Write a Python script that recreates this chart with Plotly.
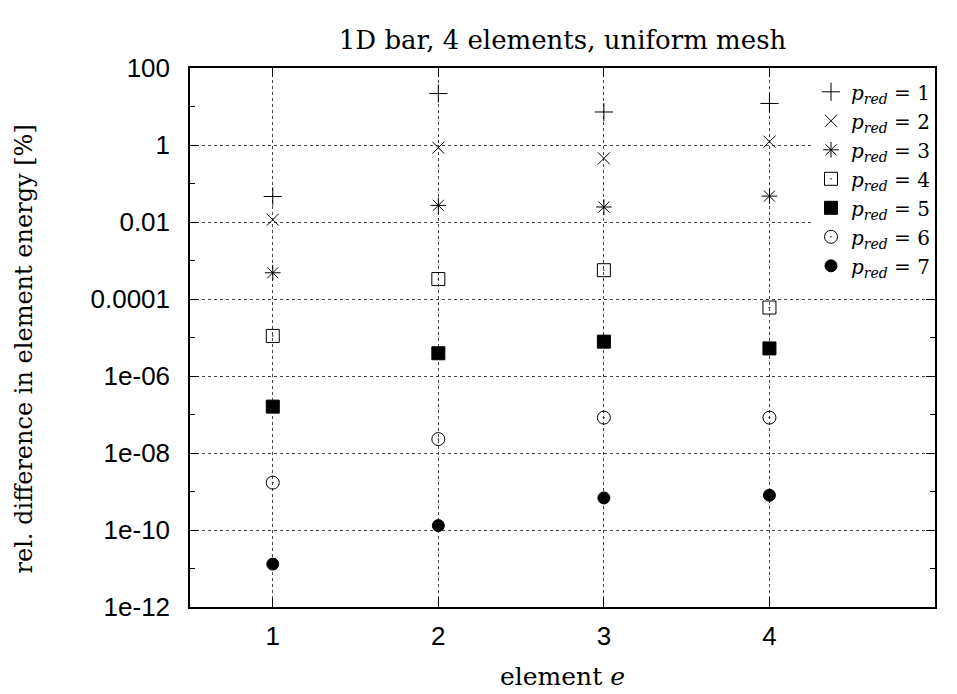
import plotly.graph_objects as go

elements = [1, 2, 3, 4]
p_red_levels = [1, 2, 3, 4, 5, 6, 7]

p1 = [0.046, 21.7, 7.2, 12.0]
p2 = [0.0115, 0.85, 0.45, 1.22]
p3 = [4.8e-4, 0.027, 0.0245, 0.047]
p4 = [1.1e-5, 3.3e-4, 5.6e-4, 6.0e-5]
p5 = [1.6e-7, 3.9e-6, 7.8e-6, 5.2e-6]
p6 = [1.7e-9, 2.3e-8, 8.3e-8, 8.3e-8]
p7 = [1.3e-11, 1.3e-10, 6.8e-10, 8.0e-10]

series = [p1, p2, p3, p4, p5, p6, p7]
symbols = ["cross-thin-open", "x-thin-open", "asterisk-open", "square-open-dot",
           "square", "circle-open-dot", "circle"]
sizes = [13, 12, 13, 13, 13, 13, 12]

y_tickvals = [1e2, 1e0, 1e-2, 1e-4, 1e-6, 1e-8, 1e-10, 1e-12]
y_ticktext = ["100", "1", "0.01", "0.0001", "1e-06", "1e-08", "1e-10", "1e-12"]
y_minorvals = [1e1, 1e-1, 1e-3, 1e-5, 1e-7, 1e-9, 1e-11]

title_text = "1D bar, 4 elements, uniform mesh"
x_title = "element <i>e</i>"
y_title = "rel. difference in element energy [%]"

serif = "DejaVu Serif"
sans = "Liberation Sans"

fig = go.Figure()
for p, vals, sym, sz in zip(p_red_levels, series, symbols, sizes):
    fig.add_trace(go.Scatter(
        x=elements, y=vals, mode="markers",
        name=f"<i>p</i><sub><i>red</i></sub> = {p}",
        marker=dict(symbol=sym, size=sz, color="black",
                    line=dict(color="black", width=1)),
    ))

plot_h = 686 - 60 - 87
plot_w = 949 - 182 - 22

# page body has an 8px margin, so the figure is shrunk and margins shifted by 8px
fig.update_layout(
    width=949, height=686,
    paper_bgcolor="white", plot_bgcolor="white",
    margin=dict(l=182, r=22, t=60, b=87),
    title=dict(text=title_text, x=0.5, xref="paper",
               xanchor="center", y=1 - 32 / 686, yref="container", yanchor="middle",
               font=dict(family=serif, size=26, color="black")),
    showlegend=True,
    legend=dict(x=1.0, xanchor="right", y=0.992, yanchor="top",
                bgcolor="white", borderwidth=0,
                font=dict(family=serif, size=20, color="black"),
                tracegroupgap=0, itemwidth=30),
    xaxis=dict(range=[0.5, 5.0], tickvals=elements, ticktext=[str(e) for e in elements],
               ticks="inside", ticklen=9, tickcolor="black", tickwidth=1,
               showline=True, linecolor="black", linewidth=1.5, mirror="ticks",
               showgrid=True, gridcolor="#444", griddash="dot", gridwidth=1,
               zeroline=False, ticklabelstandoff=5,
               tickfont=dict(family=sans, size=26, color="black")),
    yaxis=dict(type="log", range=[-12, 2], tickvals=y_tickvals, ticktext=y_ticktext,
               ticks="inside", ticklen=9, tickcolor="black", tickwidth=1,
               showline=True, linecolor="black", linewidth=1.5, mirror="ticks",
               showgrid=True, gridcolor="#444", griddash="dot", gridwidth=1,
               zeroline=False, ticklabelstandoff=13,
               minor=dict(tickvals=y_minorvals, ticks="inside", ticklen=5,
                          tickcolor="black", showgrid=False),
               tickfont=dict(family=sans, size=26, color="black")),
    annotations=[
        dict(text=x_title, xref="paper", yref="paper", x=0.5, y=-69 / plot_h,
             xanchor="center", yanchor="middle", showarrow=False,
             font=dict(family=serif, size=25, color="black")),
        dict(text=y_title, xref="paper", yref="paper", x=-166 / plot_w,
             y=0.5 - 12 / plot_h,
             xanchor="center", yanchor="middle", textangle=-90, showarrow=False,
             font=dict(family=serif, size=24, color="black")),
    ],
)

fig.write_html("out.html")
